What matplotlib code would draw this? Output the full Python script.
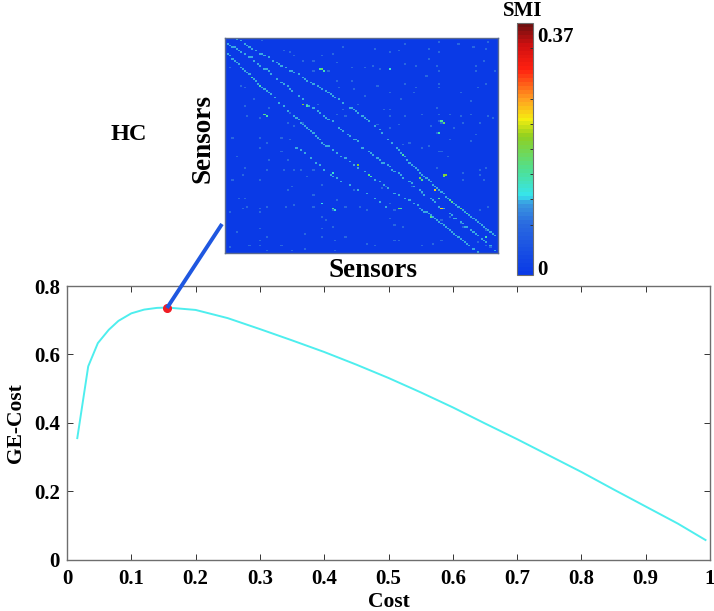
import numpy as np
import matplotlib
matplotlib.use("Agg")
import matplotlib.pyplot as plt
from matplotlib.colors import LinearSegmentedColormap
from matplotlib.lines import Line2D

plt.rcParams["font.family"] = ["Liberation Serif", "DejaVu Serif"]
plt.rcParams["font.weight"] = "bold"

# GE-Cost curve
cost = [0.016, 0.033, 0.048, 0.065, 0.08, 0.1, 0.12, 0.14, 0.156, 0.2, 0.25, 0.3, 0.35, 0.4,
        0.45, 0.5, 0.55, 0.6, 0.65, 0.7, 0.75, 0.8, 0.85, 0.9, 0.95, 0.993]
ge_cost = [0.355, 0.565, 0.633, 0.672, 0.698, 0.72, 0.731, 0.736, 0.737, 0.73, 0.706, 0.674,
           0.641, 0.607, 0.57, 0.531, 0.489, 0.445, 0.398, 0.352, 0.304, 0.256, 0.205, 0.155, 0.105, 0.057]
best_cost = 0.156
best_ge = 0.737

x_ticks = [0, 0.1, 0.2, 0.3, 0.4, 0.5, 0.6, 0.7, 0.8, 0.9, 1]
x_labels = ["0", "0.1", "0.2", "0.3", "0.4", "0.5", "0.6", "0.7", "0.8", "0.9", "1"]
y_ticks = [0, 0.2, 0.4, 0.6, 0.8]
y_labels = ["0", "0.2", "0.4", "0.6", "0.8"]

# SMI matrix, bright cells (128 sensors)
n_sensors = 128
smi_max = 0.37
band_level = 0.105
scatter_level = 0.07

band1_cols = [5, 7, 9, 10, 11, 12, 14, 16, 17, 18, 20, 22, 24, 25, 26, 28, 30, 31, 32, 34, 36, 37, 38, 40, 41, 43, 44, 45, 47, 48,
              49, 50, 51, 53, 55, 58, 59, 60, 61, 62, 64, 65, 66, 67, 70, 72, 73, 76, 78, 80, 81, 82, 83, 84, 85, 86, 87, 88, 89, 90,
              91, 92, 93, 94, 95, 96, 97, 98, 99, 100, 101, 102, 103, 104, 105, 106, 107, 108, 109, 110, 111, 112, 113, 114, 115, 116,
              117, 118, 119, 120, 121, 122, 123, 124, 125, 126]
band1_rows = [0, 1, 3, 4, 5, 6, 7, 9, 9, 10, 11, 13, 14, 15, 16, 17, 19, 19, 20, 21, 23, 24, 25, 26, 27, 28, 29, 30, 31, 32,
              33, 34, 35, 36, 38, 41, 41, 42, 43, 44, 46, 47, 48, 49, 52, 54, 56, 60, 62, 65, 66, 68, 69, 70, 72, 74, 75, 76, 77, 78,
              80, 81, 82, 83, 84, 85, 87, 88, 89, 90, 91, 92, 94, 95, 96, 97, 98, 99, 100, 101, 102, 103, 104, 105, 106, 107,
              108, 109, 110, 111, 112, 113, 114, 115, 116, 117]

band2_cols = [1, 2, 3, 4, 5, 6, 7, 9, 11, 12, 13, 15, 16, 18, 19, 20, 21, 24, 26, 27, 29, 30, 31, 34, 36, 38, 39, 41, 43, 44,
              46, 47, 48, 50, 53, 54, 55, 57, 58, 60, 61, 62, 64, 67, 68, 69, 71, 72, 73, 74, 76, 77, 78, 79, 81, 82, 83, 86, 87, 88,
              91, 92, 93, 96, 97, 98, 100, 102, 105, 106, 107, 108, 110, 111, 112, 113, 115, 116, 117, 118, 120, 121, 122, 124, 126]
band2_rows = [3, 4, 5, 5, 6, 7, 8, 9, 11, 11, 13, 15, 16, 18, 18, 19, 21, 24, 26, 27, 28, 30, 31, 34, 36, 39, 40, 41, 43, 44,
              46, 47, 48, 49, 53, 54, 55, 57, 58, 60, 60, 61, 65, 67, 68, 69, 71, 72, 74, 74, 75, 76, 78, 79, 80, 81, 83, 85, 86, 88,
              90, 91, 93, 95, 96, 97, 100, 101, 104, 105, 107, 107, 109, 110, 112, 112, 114, 115, 116, 117, 119, 120, 121, 123, 126]

band3_cols = [1, 2, 3, 4, 5, 6, 7, 8, 9, 10, 11, 12, 13, 14, 15, 16, 17, 18, 19, 20, 21, 23, 25, 27, 29, 32, 33, 34, 35, 36,
              37, 38, 39, 40, 41, 42, 43, 44, 45, 46, 47, 48, 50, 52, 54, 56, 58, 60, 62, 65, 67, 70, 72, 74, 76, 79, 81, 84, 86, 88,
              90, 91, 92, 93, 94, 95, 96, 97, 98, 99, 100, 101, 102, 103, 104, 105, 106, 107, 108, 109, 110, 111, 112, 113, 114, 116, 118]
band3_rows = [9, 10, 12, 13, 14, 15, 17, 18, 19, 20, 21, 23, 24, 25, 27, 28, 29, 30, 31, 32, 33, 35, 38, 40, 43, 46, 47, 48, 50, 51,
              52, 53, 54, 55, 56, 58, 59, 60, 62, 63, 64, 64, 66, 68, 70, 71, 73, 75, 77, 79, 81, 84, 85, 87, 89, 92, 93, 95, 96, 98,
              99, 101, 102, 103, 103, 104, 105, 106, 107, 108, 109, 110, 111, 112, 113, 114, 115, 116, 117, 118, 119, 120, 121, 122, 123, 125, 127]

band4_cols = [33, 35, 37, 40, 42, 44, 46, 49, 50, 52, 54, 58, 62, 66, 70, 72, 75]
band4_rows = [65, 66, 68, 71, 74, 75, 78, 81, 82, 83, 85, 87, 90, 92, 95, 97, 100]

scatter_cols = [17, 27, 30, 32, 36, 45, 52, 59, 48, 41, 2, 7, 9, 13, 9, 10, 20, 16, 30, 29, 32, 36, 16, 19, 3, 26, 30, 53, 60, 59,
                52, 41, 55, 50, 43, 52, 56, 55, 62,
                70, 84, 77, 84, 81, 95, 100, 100, 109, 116, 122, 123, 95, 121, 117, 99, 100, 77, 72, 65, 69, 89, 117, 126, 94, 84,
                71, 89, 100, 100, 118, 122, 110, 77, 65, 82, 88, 115, 74, 77, 77, 84, 92, 99, 100, 100, 105, 110, 115, 123, 125,
                119, 96, 81, 77, 101, 102, 111, 107, 117, 99, 86, 83, 95, 115, 105, 71,
                5, 16, 20, 26, 29, 9, 19, 8, 16, 3, 35, 32, 38, 27, 41, 31, 29, 45, 41, 45, 41, 50, 56, 63, 52, 8, 10, 16, 19, 16,
                28, 32, 2, 6, 9, 45, 47, 50, 16, 5, 19, 16, 45, 37, 45, 56, 51, 2, 11, 16, 26, 31, 19, 51, 60, 37,
                100, 101, 99, 104, 92, 111, 111, 119, 122, 119, 121, 87, 92, 73, 75, 66, 77, 79, 77, 105, 119, 123, 79, 83, 101,
                110, 111, 122, 66, 79, 81, 92, 101, 70, 97, 122, 124, 118]
scatter_rows = [1, 7, 8, 10, 13, 10, 14, 17, 19, 19, 17, 28, 29, 36, 40, 46, 41, 47, 44, 50, 52, 50, 59, 62, 59, 59, 60, 29, 30, 25,
                25, 13, 5, 9, 39, 45, 46, 42, 39,
                6, 3, 8, 15, 7, 6, 2, 8, 3, 5, 6, 2, 12, 13, 16, 16, 19, 18, 18, 17, 16, 16, 19, 19, 22, 27,
                28, 29, 27, 29, 29, 27, 32, 32, 34, 36, 32, 37, 42, 42, 46, 46, 45, 41, 45, 49, 45, 46, 45, 46, 47,
                50, 52, 51, 53, 50, 50, 50, 53, 57, 56, 62, 63, 64, 61, 60, 51,
                70, 65, 72, 67, 72, 77, 78, 81, 84, 84, 78, 78, 82, 78, 78, 88, 90, 87, 93, 98, 100, 102, 100, 100, 96, 101, 100, 101, 100, 103,
                100, 99, 103, 95, 95, 106, 108, 112, 113, 115, 118, 120, 113, 116, 118, 118, 120, 124, 123, 123, 123, 126, 126, 126, 90, 125,
                67, 67, 77, 70, 65, 80, 84, 78, 77, 81, 84, 88, 92, 89, 88, 102, 98, 102, 107, 106, 102, 100, 111, 112, 108,
                110, 112, 114, 122, 120, 120, 123, 120, 123, 122, 123, 124, 121]

# brighter spots and clusters
hot_cols = [44, 45, 46, 18, 19, 102, 103, 102, 101, 81, 82, 67, 68, 101, 102, 77, 100, 50, 51, 50, 45, 36, 38, 62, 91, 92, 110, 98, 96, 100, 122,
            105, 106, 113, 12, 16, 83]
hot_rows = [18, 18, 19, 45, 46, 81, 81, 82, 101, 101, 101, 81, 82, 49, 50, 18, 56, 101, 102, 80, 98, 39, 40, 75, 83, 84, 101, 90, 106, 95, 118,
            96, 97, 104, 23, 28, 69]
hot_vals = [0.15, 0.17, 0.14, 0.16, 0.14, 0.19, 0.2, 0.17, 0.24, 0.17, 0.15, 0.16, 0.14, 0.15, 0.17, 0.13, 0.14, 0.15, 0.13, 0.13, 0.12,
            0.2, 0.15, 0.2, 0.18, 0.16, 0.17, 0.24, 0.16, 0.15, 0.14, 0.15, 0.16, 0.14, 0.14, 0.14, 0.15]

cbar_ticks = [0.073, 0.112, 0.148, 0.185, 0.222, 0.258, 0.333]

smi = np.zeros((n_sensors, n_sensors))
smi[scatter_rows, scatter_cols] = scatter_level
for rows, cols in [(band1_rows, band1_cols), (band2_rows, band2_cols), (band3_rows, band3_cols), (band4_rows, band4_cols)]:
    smi[rows, cols] = band_level
smi[hot_rows, hot_cols] = hot_vals

# colormap taken from the colorbar
cmap = LinearSegmentedColormap.from_list("smi", [
    (0.0, "#0a3ae6"), (0.2, "#2a6ae0"), (0.28, "#3a9ae0"), (0.31, "#35e5ee"), (0.42, "#50e090"),
    (0.55, "#90d020"), (0.62, "#f5ee10"), (0.7, "#ffa020"), (0.82, "#ff2010"), (0.92, "#d01010"),
    (1.0, "#701010")], N=64)


W, H = 714, 611
def px_axes(x0, y0, x1, y1):
    return [x0 / W, 1 - y1 / H, (x1 - x0) / W, (y1 - y0) / H]


fig = plt.figure(figsize=(W / 100, H / 100), dpi=100)
grey = "#6e6e6e"

# lower panel
ax = fig.add_axes(px_axes(67, 286, 710, 559.5))
ax.plot(cost, ge_cost, color="#4eeeee", lw=1.4)
ax.plot([best_cost], [best_ge], "o", color="#f01c24", ms=5.5, zorder=5)
ax.set_xlim(0, 1)
ax.set_ylim(0, 0.8)
ax.set_xticks(x_ticks, x_labels)
ax.set_yticks(y_ticks, y_labels)
ax.tick_params(direction="in", length=4, width=0.7, color="#333333", labelsize=15, top=True, right=True)
ax.tick_params(axis="x", pad=7)
ax.tick_params(axis="y", pad=5)
ax.set_xlabel("Cost", fontsize=15.5, fontweight="bold", labelpad=2)
ax.set_ylabel("GE-Cost", fontsize=15.5, fontweight="bold", labelpad=6)
for s in ax.spines.values():
    s.set_color(grey)
    s.set_linewidth(1.0)

# heatmap
ax_h = fig.add_axes(px_axes(225, 38, 498, 253))
im = ax_h.imshow(smi, cmap=cmap, vmin=0, vmax=smi_max, aspect="auto", interpolation="nearest")
ax_h.set_xticks([])
ax_h.set_yticks([])
for s in ax_h.spines.values():
    s.set_color("#5a6a90")
    s.set_linewidth(1.0)

# colorbar
cax = fig.add_axes(px_axes(517, 23, 533, 275))
cb = fig.colorbar(im, cax=cax)
cb.set_ticks(cbar_ticks, labels=[""] * len(cbar_ticks))
cb.ax.tick_params(direction="in", length=2, width=0.7, color="#333333")
cb.outline.set_edgecolor(grey)
cb.outline.set_linewidth(0.8)

fig.text(537 / W, 1 - 37 / H, "0.37", fontsize=15, va="center", ha="left")
fig.text(537 / W, 1 - 270 / H, "0", fontsize=15, va="center", ha="left")
fig.text(523 / W, 1 - 11 / H, "SMI", fontsize=15, va="center", ha="center")
fig.text(129 / W, 1 - 135 / H, "HC", fontsize=17.5, va="center", ha="center")
fig.text(203 / W, 1 - 138 / H, "Sensors", fontsize=19.5, va="center", ha="center", rotation=90)
fig.text(373 / W, 1 - 271 / H, "Sensors", fontsize=19.5, va="center", ha="center")

# link from the red point to the heatmap
fig.add_artist(Line2D([222 / W, 167 / W], [1 - 224 / H, 1 - 308 / H], color="#1f57e0", lw=2.8, solid_capstyle="butt"))

fig.savefig("out.png", dpi=100)
